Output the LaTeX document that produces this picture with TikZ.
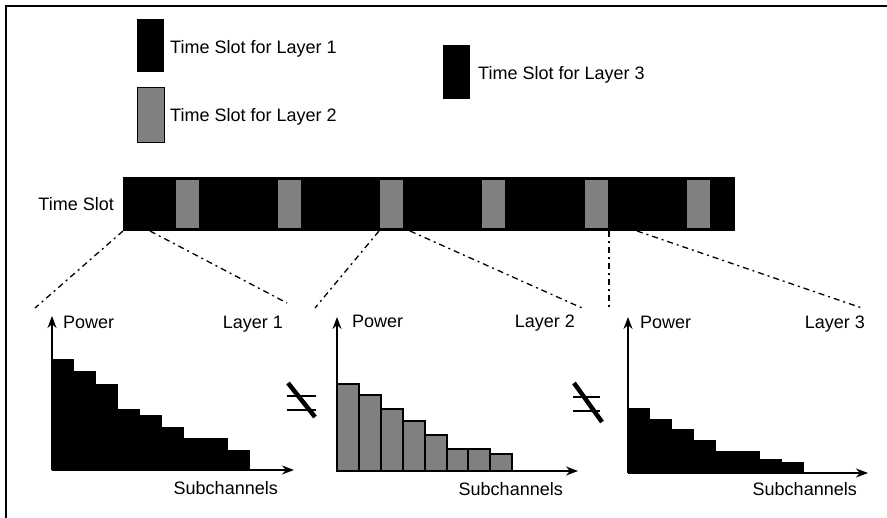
\documentclass[tikz,border=0pt]{standalone}
\usepackage{fontspec}
\setmainfont{Liberation Sans}
\usetikzlibrary{arrows.meta}
\begin{document}
\begin{tikzpicture}[x=1pt,y=-1pt,
  lbl/.style={inner sep=0pt, font=\fontsize{18}{20}\selectfont},
  keybox/.style={inner sep=0pt, anchor=north west, minimum width=27pt, minimum height=53pt},
  dk/.style={fill=black},
  gr/.style={fill=black!50},
  link/.style={line width=1.3pt, dash pattern=on 6pt off 4pt on 2pt off 4pt},
  axis/.style={line width=1.6pt, -{Stealth[length=12pt,width=9pt]}},
  neqline/.style={line width=2.8pt},
  slashline/.style={line width=4.5pt}]
\useasboundingbox (0,0) rectangle (887,518);
% frame
\draw[line width=1.6pt] (887,6) -- (6,6) -- (6,518);
% legend
\node[keybox, dk] (k1) at (137,19) {};
\node[keybox, gr, draw=black, line width=0.8pt, minimum height=55pt] (k2) at (137,87) {};
\node[keybox, dk, minimum height=54pt] (k3) at (443,45) {};
\node[lbl, anchor=base west] (t1) at (170,54) {Time Slot for Layer 1};
\node[lbl, anchor=base west] (t2) at (170,122) {Time Slot for Layer 2};
\node[lbl, anchor=base west] (t3) at (478,79.5) {Time Slot for Layer 3};
% time slot bar
\node[lbl, anchor=base east] (ts) at (114,211) {Time Slot};
\node[dk, inner sep=0pt, anchor=north west, minimum width=612pt, minimum height=54pt] (bar) at (123,177) {};
\foreach \s in {176,278,380,482,585,687}
  \fill[gr] (\s,180) rectangle ({\s+23},228);
% dash-dot links
\coordinate (a1) at (123,231); \coordinate (b1) at (150,231);
\coordinate (a2) at (379,231); \coordinate (b2) at (410,231);
\coordinate (a3) at (609,231); \coordinate (b3) at (637,231);
\coordinate (c1) at (35,308);  \coordinate (d1) at (287,303);
\coordinate (c2) at (315,308); \coordinate (d2) at (582,308);
\coordinate (c3) at (609,308); \coordinate (d3) at (862,308);
\draw[link] (a1) -- (c1);
\draw[link] (b1) -- (d1);
\draw[link] (a2) -- (c2);
\draw[link] (b2) -- (d2);
\draw[link] (a3) -- (c3);
\draw[link] (b3) -- (d3);
% chart 1
\foreach \x/\t in {52/359,74/371,96/384,118/409,140/415,162/427,184/438,206/438,228/450}
  \fill (\x,\t) rectangle ({\x+22},470);
\coordinate (o1) at (52,470);
\coordinate (y1) at (52,316);
\coordinate (x1) at (294,470);
\draw[axis] (o1) -- (y1);
\draw[axis] (o1) -- (x1);
\node[lbl, anchor=base west] (p1) at (63,329) {Power};
\node[lbl, anchor=base east] (l1) at (283,329) {Layer 1};
\node[lbl, anchor=base east] (s1) at (278,495) {Subchannels};
% chart 2
\foreach \x/\t in {337/384,359/395,381/409,403/421,425/435,447/449,468/449,490/454}
  \filldraw[gr, draw=black, line width=1.6pt] (\x,\t) rectangle ({\x+22},471);
\coordinate (o2) at (337,471);
\coordinate (y2) at (337,317);
\coordinate (x2) at (578,471);
\draw[axis] (o2) -- (y2);
\draw[axis] (o2) -- (x2);
\node[lbl, anchor=base west] (p2) at (352,328) {Power};
\node[lbl, anchor=base east] (l2) at (575,328) {Layer 2};
\node[lbl, anchor=base east] (s2) at (563,496) {Subchannels};
% chart 3
\foreach \x/\t in {628/408,650/419,672/429,694/440,716/451,738/451,760/459,782/462}
  \fill (\x,\t) rectangle ({\x+22},473);
\coordinate (o3) at (628,473);
\coordinate (y3) at (628,317);
\coordinate (x3) at (868,473);
\draw[axis] (o3) -- (y3);
\draw[axis] (o3) -- (x3);
\node[lbl, anchor=base west] (p3) at (640,329) {Power};
\node[lbl, anchor=base east] (l3) at (865,329) {Layer 3};
\node[lbl, anchor=base east] (s3) at (857,496) {Subchannels};
% not-equal signs
\draw[neqline] (287,396) -- (316,396);
\draw[neqline] (287,410) -- (316,410);
\draw[slashline] (288,383) -- (315,417);
\draw[neqline] (573,397) -- (600,397);
\draw[neqline] (573,411) -- (600,411);
\draw[slashline] (574,383) -- (602,422);
\end{tikzpicture}
\end{document}
